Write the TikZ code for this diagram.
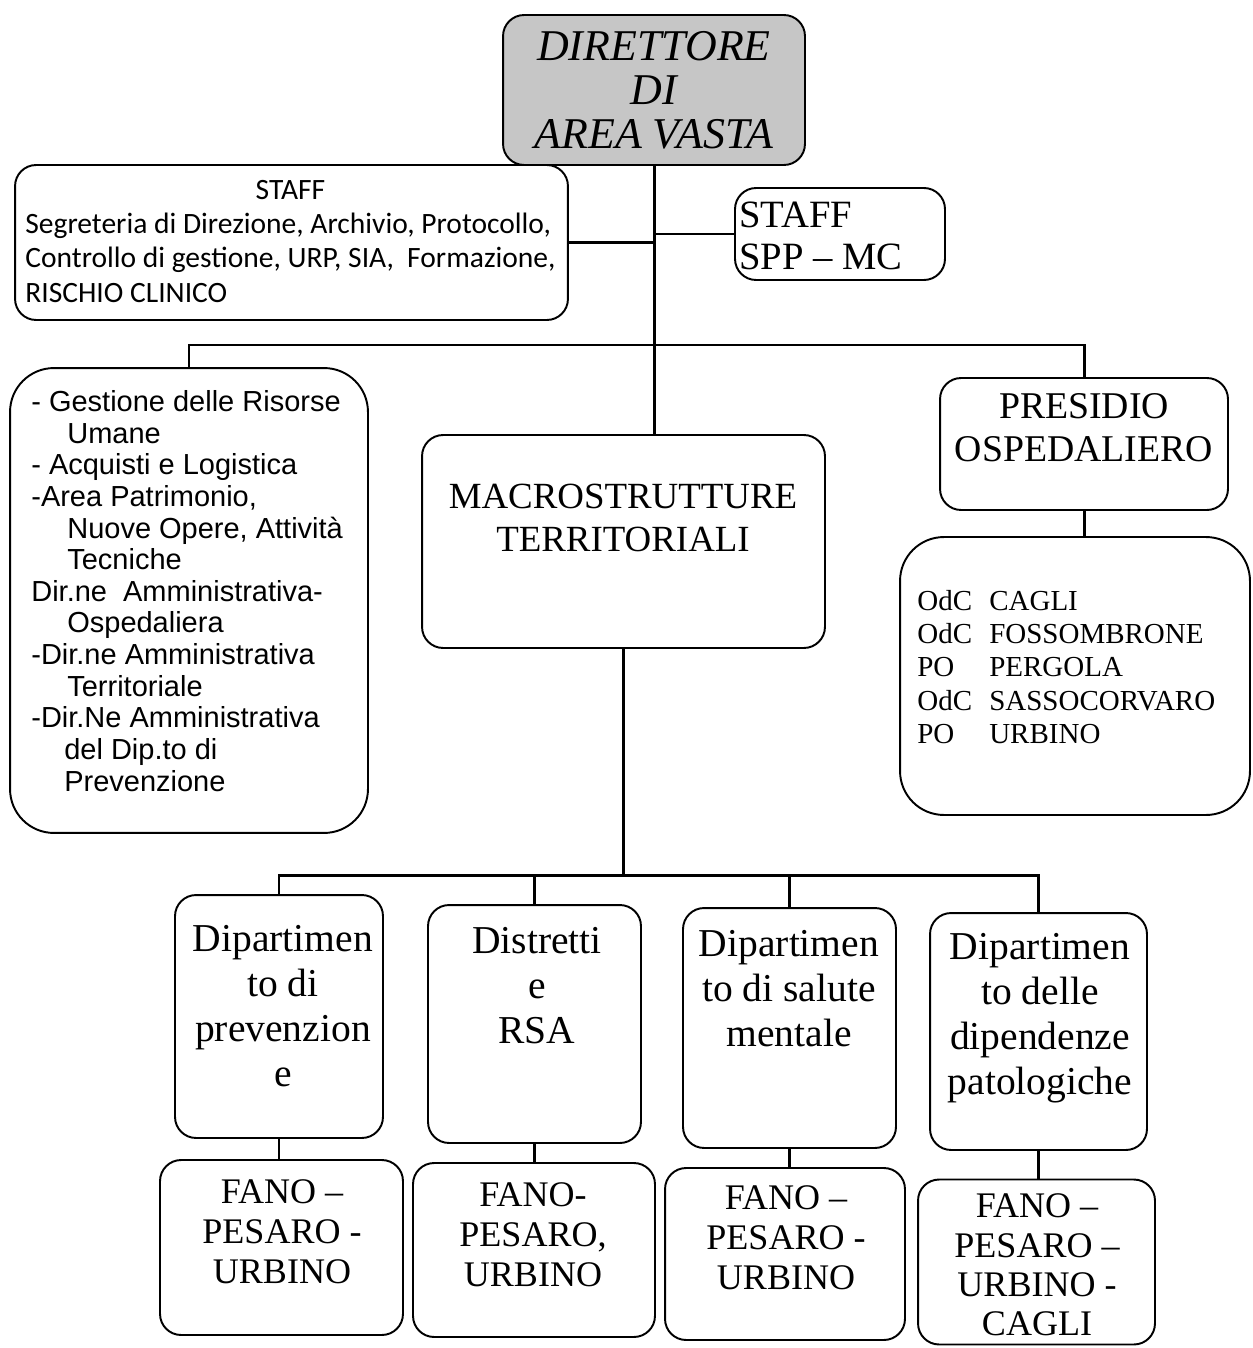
\documentclass[tikz,border=0pt]{standalone}
\usepackage{fontspec}
\setmainfont{Liberation Serif}
\newfontfamily\arialfont{Liberation Sans}
\newfontfamily\calibrifont{Carlito}
\newcommand{\fsz}[2]{\fontsize{#1}{#2}\selectfont}
\newcommand{\indnt}{\hspace*{0.72cm}}
\newcommand{\firstcol}[1]{\makebox[1.44cm][l]{#1}}
\usetikzlibrary{shapes}

\begin{document}
\begin{tikzpicture}[x=0.02cm, y=-0.02cm,
  box/.style={rectangle, draw, rounded corners=12pt, line width=1.1pt, inner sep=0pt},
  txt/.style={align=center, inner sep=0pt},
  link/.style={line width=1.7pt}]

  \useasboundingbox (0,0) rectangle (1253,1348);

  \node[box, fill=gray!45, minimum width=6.04cm, minimum height=3cm,
        font=\fsz{25}{25}\itshape, align=center] (dir) at (654,90) {DIRETTORE\\DI\\AREA VASTA};

  \node[box, minimum width=11.06cm, minimum height=3.1cm] (staffL) at (291.5,242.5) {};
  \node[txt, anchor=west, font=\calibrifont\fsz{16.8}{19.5}] at (25,244) {
    \begin{tabular}{@{}l@{}}
      \multicolumn{1}{@{}c@{}}{STAFF}\\
      Segreteria di Direzione, Archivio, Protocollo,\\
      Controllo di gestione, URP, SIA,~ Formazione,\\
      RISCHIO CLINICO
    \end{tabular}};

  \node[box, minimum width=4.2cm, minimum height=1.84cm] (staffR) at (840,234) {};
  \node[txt, align=left, anchor=west, font=\fsz{22}{24}] at (739,236) {STAFF\\SPP -- MC};

  \node[box, rounded corners=25pt, minimum width=7.16cm, minimum height=9.3cm] (amm) at (189,600.5) {};
  \node[txt, align=left, anchor=west, font=\arialfont\fsz{16.5}{18}] at (31,591) {
    - Gestione delle Risorse\\\indnt Umane\\
    - Acquisti e Logistica\\
    -Area Patrimonio,\\\indnt Nuove Opere, Attività\\\indnt Tecniche\\
    Dir.ne~ Amministrativa-\\\indnt Ospedaliera\\
    -Dir.ne Amministrativa\\\indnt Territoriale\\
    -Dir.Ne Amministrativa\\\hspace*{0.66cm}del Dip.to di\\\hspace*{0.66cm}Prevenzione};

  \node[box, minimum width=8.06cm, minimum height=4.26cm] (mac) at (623.5,541.5) {};
  \node[txt, font=\fsz{21}{24.5}] at (623,518) {MACROSTRUTTURE\\TERRITORIALI};

  \node[box, minimum width=5.76cm, minimum height=2.64cm] (pres) at (1084,444) {};
  \node[txt, font=\fsz{21.5}{24.5}] at (1084,428) {PRESIDIO\\OSPEDALIERO};

  \node[box, rounded corners=25pt, minimum width=7cm, minimum height=5.56cm] (odc) at (1075,676) {};
  \node[txt, align=left, anchor=west, font=\fsz{16.5}{19}] at (917,667) {
    \firstcol{OdC}CAGLI\\\firstcol{OdC}FOSSOMBRONE\\\firstcol{PO}PERGOLA\\
    \firstcol{OdC}SASSOCORVARO\\\firstcol{PO}URBINO};

  \node[box, minimum width=4.16cm, minimum height=4.86cm] (dp1) at (279,1016.5) {};
  \node[box, minimum width=4.26cm, minimum height=4.76cm] (dp2) at (534.5,1024) {};
  \node[box, minimum width=4.26cm, minimum height=4.8cm] (dp3) at (789.5,1028) {};
  \node[box, minimum width=4.34cm, minimum height=4.74cm] (dp4) at (1038.5,1031.5) {};
  \node[txt, anchor=north, font=\fsz{22.5}{25.6}] at (283,925) {Dipartimen\\to di\\prevenzion\\e};
  \node[txt, anchor=north, font=\fsz{22.5}{25.6}] at (537,927) {Distretti\\e\\RSA};
  \node[txt, anchor=north, font=\fsz{22.5}{25.6}] at (789,930) {Dipartimen\\to di salute\\mentale};
  \node[txt, anchor=north, font=\fsz{22.5}{25.6}] at (1040,933) {Dipartimen\\to delle\\dipendenze\\patologiche};

  \node[box, minimum width=4.86cm, minimum height=3.5cm] (b1) at (281.5,1247.5) {};
  \node[box, minimum width=4.84cm, minimum height=3.48cm] (b2) at (534,1250) {};
  \node[box, minimum width=4.8cm, minimum height=3.44cm] (b3) at (785,1254) {};
  \node[box, minimum width=4.74cm, minimum height=3.3cm] (b4) at (1036.5,1262) {};
  \node[txt, font=\fsz{20.5}{22.8}] at (282,1232) {FANO --\\PESARO -\\URBINO};
  \node[txt, font=\fsz{20.5}{22.8}] at (533,1235) {FANO-\\PESARO,\\URBINO};
  \node[txt, font=\fsz{20.5}{22.8}] at (786,1238) {FANO --\\PESARO -\\URBINO};
  \node[txt, font=\fsz{20.5}{22.4}] at (1037,1265) {FANO --\\PESARO --\\URBINO -\\CAGLI};

  \coordinate (top) at (652,345);
  \coordinate (mid) at (622,875);

  \draw[link] (dir.south) -- (dir.south |- mac.north);
  \draw[link] (staffL.east) -- (staffL.east -| dir.south);
  \draw[link] (staffR.west) -- (staffR.west -| dir.south);
  \draw[link] (amm.north) |- (top) -| (pres.north);
  \draw[link] (pres.south) -- (pres.south |- odc.north);
  \draw[link] (mac.south) -- (mac.south |- mid);
  \draw[link] (dp1.north) |- (mid) -| (dp4.north);
  \draw[link] (dp2.north) -- (dp2.north |- mid);
  \draw[link] (dp3.north) -- (dp3.north |- mid);
  \foreach \i in {1,...,4}
    \draw[link] (dp\i.south) -- (dp\i.south |- b\i.north);

\end{tikzpicture}
\end{document}
